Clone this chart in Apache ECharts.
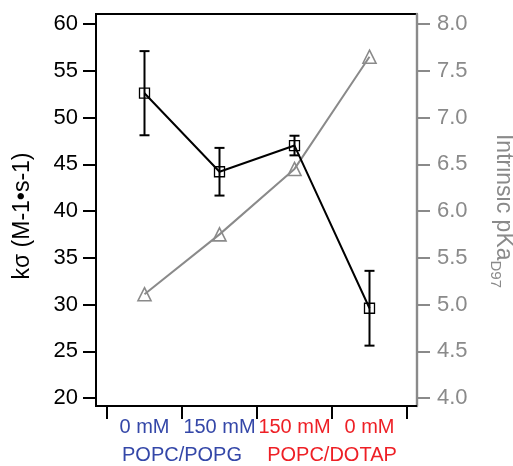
<!DOCTYPE html>
<html>
<head>
<meta charset="utf-8">
<script src="https://cdn.jsdelivr.net/npm/echarts@6/dist/echarts.min.js"></script>
<style>
html,body{margin:0;padding:0;background:#fff;overflow:hidden;width:513px;height:466px;}
#chart{width:513px;height:466px;}
</style>
</head>
<body>
<div id="chart"></div>
<script>
var categories = ['0 mM', '150 mM', '150 mM', '0 mM'];
var categoryColors = ['#3447a8', '#3447a8', '#ee1f25', '#ee1f25'];
var groups = ['POPC/POPG', 'POPC/DOTAP'];
var groupColors = ['#3447a8', '#ee1f25'];
var kSigma = [52.6, 44.2, 47.0, 29.6];
var kSigmaErr = [4.5, 2.55, 1.05, 4.0];
var pKa = [5.11, 5.75, 6.45, 7.65];
var leftTicks = {min: 20, max: 60, interval: 5};
var rightTicks = {min: 4, max: 8, interval: 0.5};

var FONT = 'Liberation Sans, Arial, sans-serif';
var GRAY = '#8a8a8a';

var errData = kSigma.map(function (v, i) { return [i, v - kSigmaErr[i], v + kSigmaErr[i]]; });

var chart = echarts.init(document.getElementById('chart'), null, {renderer: 'canvas', width: 513, height: 466});

var frameX = function (pos) {
  return {gridIndex: 0, type: 'value', min: 0, max: 1, position: pos,
    axisLine: {show: true, onZero: false, lineStyle: {color: '#000', width: 2}},
    axisTick: {show: false}, axisLabel: {show: false}, splitLine: {show: false}};
};

var option = {
  animation: false,
  backgroundColor: '#fff',
  grid: [
    {left: 96, right: 96, top: 14, bottom: 60, outerBoundsMode: 'none', containLabel: false,
      show: true, borderColor: '#000', borderWidth: 2, backgroundColor: 'transparent'},
    {left: 107, right: 106, top: 24, bottom: 68, outerBoundsMode: 'none', containLabel: false}
  ],
  xAxis: [
    frameX('top'),
    {gridIndex: 1, type: 'category', data: categories, position: 'bottom', offset: 8,
      boundaryGap: true,
      axisLine: {show: true, onZero: false, lineStyle: {color: '#000', width: 2}},
      axisTick: {show: true, length: 13, alignWithLabel: false, lineStyle: {color: '#000', width: 2}},
      axisLabel: {margin: 11, fontSize: 20, fontFamily: FONT, interval: 0,
        color: function (v, i) { return categoryColors[i]; }},
      splitLine: {show: false}},
    {gridIndex: 1, type: 'category', data: groups, position: 'bottom', offset: 8,
      axisLine: {show: false, onZero: false}, axisTick: {show: false},
      axisLabel: {margin: 39, fontSize: 20, fontFamily: FONT, interval: 0,
        color: function (v, i) { return groupColors[i]; }},
      splitLine: {show: false}},
    frameX('bottom')
  ],
  yAxis: [
    {gridIndex: 0, type: 'value', min: 0, max: 1, position: 'left',
      axisLine: {show: true, onZero: false, lineStyle: {color: '#000', width: 2}},
      axisTick: {show: false}, axisLabel: {show: false}, splitLine: {show: false}},
    {gridIndex: 0, type: 'value', min: 0, max: 1, position: 'right',
      axisLine: {show: true, onZero: false, lineStyle: {color: GRAY, width: 2.4}},
      axisTick: {show: false}, axisLabel: {show: false}, splitLine: {show: false}, z: 6},
    {gridIndex: 1, type: 'value', position: 'left', offset: 11,
      min: leftTicks.min, max: leftTicks.max, interval: leftTicks.interval,
      axisLine: {show: false, onZero: false},
      axisTick: {show: true, length: 13, lineStyle: {color: '#000', width: 2}},
      axisLabel: {margin: 18, fontSize: 22, color: '#000', fontFamily: FONT},
      splitLine: {show: false},
      name: 'k\u03c3 (M-1\u2022s-1)', nameLocation: 'middle', nameRotate: 90, nameGap: 62,
      nameTextStyle: {fontSize: 23, color: '#000', fontFamily: FONT, padding: [0, 10, 0, 0]}},
    {gridIndex: 1, type: 'value', position: 'right', offset: 10,
      min: rightTicks.min, max: rightTicks.max, interval: rightTicks.interval,
      axisLine: {show: false, onZero: false},
      axisTick: {show: true, length: 13, lineStyle: {color: GRAY, width: 2}},
      axisLabel: {margin: 20, fontSize: 22, color: GRAY, fontFamily: FONT,
        formatter: function (v) { return v.toFixed(1); }},
      splitLine: {show: false},
      name: '{a|Intrinsic pKa}{b|D97}', nameLocation: 'middle', nameRotate: -90, nameGap: 72,
      nameTextStyle: {color: GRAY, fontFamily: FONT,
        rich: {
          a: {fontSize: 23, lineHeight: 26, color: GRAY, fontFamily: FONT, verticalAlign: 'top'},
          b: {fontSize: 15, lineHeight: 16, color: GRAY, fontFamily: FONT, verticalAlign: 'top', padding: [12, 0, 0, 0]}
        }}}
  ],
  series: [
    {type: 'line', name: 'frameTop', xAxisIndex: 0, yAxisIndex: 0, data: [], silent: true},
    {type: 'line', name: 'frameBottom', xAxisIndex: 3, yAxisIndex: 1, data: [], silent: true},
    {type: 'line', name: 'pKa', xAxisIndex: 1, yAxisIndex: 3, data: pKa,
      symbol: 'triangle', symbolSize: 13, showAllSymbol: true,
      lineStyle: {color: GRAY, width: 2},
      itemStyle: {color: 'rgba(255,255,255,0)', borderColor: GRAY, borderWidth: 1.6},
      z: 3},
    {type: 'custom', name: 'err', xAxisIndex: 1, yAxisIndex: 2, data: errData,
      renderItem: function (params, api) {
        var lo = api.coord([api.value(0), api.value(1)]);
        var hi = api.coord([api.value(0), api.value(2)]);
        var w = 5;
        var st = {stroke: '#000', lineWidth: 2};
        return {type: 'group', children: [
          {type: 'line', shape: {x1: lo[0], y1: lo[1], x2: hi[0], y2: hi[1]}, style: st},
          {type: 'line', shape: {x1: lo[0] - w, y1: lo[1], x2: lo[0] + w, y2: lo[1]}, style: st},
          {type: 'line', shape: {x1: hi[0] - w, y1: hi[1], x2: hi[0] + w, y2: hi[1]}, style: st}
        ]};
      },
      z: 4},
    {type: 'line', name: 'k', xAxisIndex: 1, yAxisIndex: 2, data: kSigma,
      symbol: 'rect', symbolSize: 10, showAllSymbol: true,
      lineStyle: {color: '#000', width: 2},
      itemStyle: {color: 'rgba(255,255,255,0)', borderColor: '#000', borderWidth: 1.3},
      z: 5}
  ]
};
chart.setOption(option);

// bottom edge of the plot frame, located through grid 0's own axes, on its own layer
var tl = chart.convertToPixel({xAxisIndex: 0, yAxisIndex: 0}, [0, 1]);
var br = chart.convertToPixel({xAxisIndex: 0, yAxisIndex: 0}, [1, 0]);
if (tl && br && isFinite(tl[0]) && isFinite(br[1])) {
  chart.setOption({
    graphic: [{
      type: 'line', silent: true, zlevel: 1, z: 100,
      shape: {x1: tl[0] - 1, y1: br[1], x2: br[0], y2: br[1]},
      style: {stroke: '#000', lineWidth: 2}
    }]
  });
}
</script>
</body>
</html>
